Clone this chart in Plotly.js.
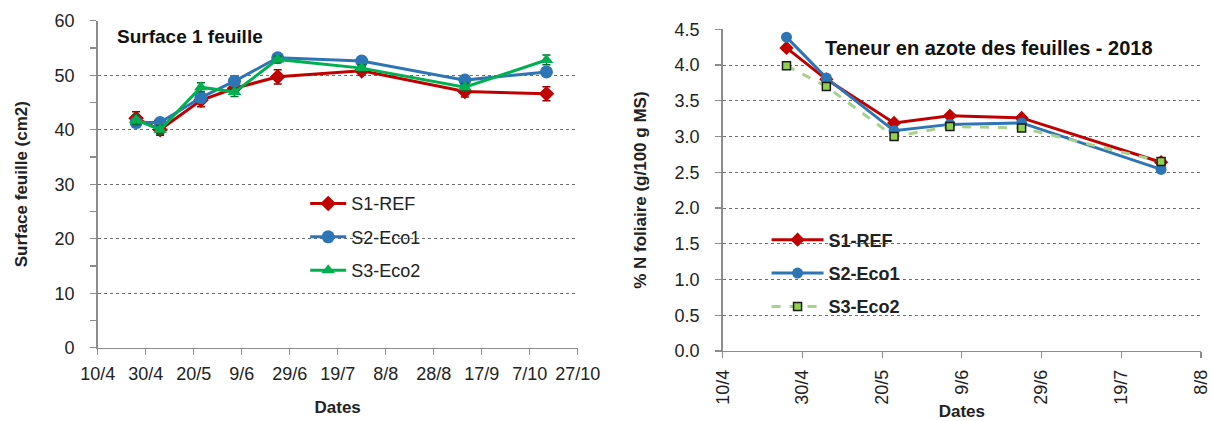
<!DOCTYPE html>
<html>
<head>
<meta charset="utf-8">
<script src="https://cdn.plot.ly/plotly-3.0.1.min.js"></script>
<style>html,body{margin:0;padding:0;background:#fff;}#chart{width:1211px;height:421px;}</style>
</head>
<body>
<div id="chart"></div>
<script>
// ---- Data ----
const seriesNames = ["S1-REF", "S2-Eco1", "S3-Eco2"];

// Left chart: Surface 1 feuille (cm2)
const surfDates = ["2018-04-26", "2018-05-06", "2018-05-23", "2018-06-06", "2018-06-24", "2018-07-29", "2018-09-10", "2018-10-14"];
const surfS1 = [42.1, 40.0, 45.4, 47.6, 49.7, 50.8, 47.0, 46.6];
const surfS2 = [41.3, 41.3, 45.9, 48.9, 53.2, 52.6, 49.1, 50.6];
const surfS3 = [41.8, 40.0, 47.8, 46.9, 52.9, 51.3, 47.8, 52.8];
const surfErrS1 = [1.2, 1.0, 1.2, 0.8, 1.3, 0.8, 1.0, 1.3];
const surfErrS2 = [0.6, 0.6, 0.8, 0.7, 0.6, 0.6, 0.7, 0.7];
const surfErrS3 = [0.9, 0.8, 0.8, 0.8, 0.6, 0.6, 0.7, 0.9];

// Right chart: % N foliaire (g/100 g MS)
const nDates = ["2018-04-26", "2018-05-06", "2018-05-23", "2018-06-06", "2018-06-24", "2018-07-29"];
const nS1 = [4.24, 3.80, 3.19, 3.29, 3.26, 2.64];
const nS2 = [4.39, 3.82, 3.08, 3.17, 3.19, 2.54];
const nS3 = [3.99, 3.70, 3.00, 3.14, 3.12, 2.65];

// Tick labels
const leftTickVals = ["2018-04-10", "2018-04-30", "2018-05-20", "2018-06-09", "2018-06-29", "2018-07-19", "2018-08-08", "2018-08-28", "2018-09-17", "2018-10-07", "2018-10-27"];
const leftTickText = ["10/4", "30/4", "20/5", "9/6", "29/6", "19/7", "8/8", "28/8", "17/9", "7/10", "27/10"];
const rightTickVals = ["2018-04-10", "2018-04-30", "2018-05-20", "2018-06-09", "2018-06-29", "2018-07-19", "2018-08-08"];
const rightTickText = ["10/4", "30/4", "20/5", "9/6", "29/6", "19/7", "8/8"];
const leftYTicks = [0, 10, 20, 30, 40, 50, 60];
const rightYTicks = [0, 0.5, 1, 1.5, 2, 2.5, 3, 3.5, 4, 4.5];
const rightYText = ["0.0", "0.5", "1.0", "1.5", "2.0", "2.5", "3.0", "3.5", "4.0", "4.5"];

// ---- Styles ----
const RED = "#C00000", BLUE = "#2E75B6", GREEN = "#00B050", LGREEN = "#A9D18E", SQ = "#92D050";
const FONT = "Liberation Sans, Arial, sans-serif";

function err(arr, color) {
  return {type: "data", array: arr, visible: true, color: color, thickness: 1.5, width: 4};
}

const traces = [
  {x: surfDates, y: surfS1, name: seriesNames[0], xaxis: "x", yaxis: "y", mode: "lines+markers",
   line: {color: RED, width: 3}, marker: {symbol: "diamond", size: 12, color: RED},
   error_y: err(surfErrS1, "#8B0000"), legend: "legend", legendgroup: "a1"},
  {x: surfDates, y: surfS2, name: seriesNames[1], xaxis: "x", yaxis: "y", mode: "lines+markers",
   line: {color: BLUE, width: 3}, marker: {symbol: "circle", size: 13, color: BLUE},
   error_y: err(surfErrS2, "#1F4E79"), legend: "legend", legendgroup: "a2"},
  {x: surfDates, y: surfS3, name: seriesNames[2], xaxis: "x", yaxis: "y", mode: "lines+markers",
   line: {color: GREEN, width: 3}, marker: {symbol: "triangle-up", size: 12, color: GREEN},
   error_y: err(surfErrS3, "#006B30"), legend: "legend", legendgroup: "a3"},

  {x: nDates, y: nS1, name: seriesNames[0], xaxis: "x2", yaxis: "y2", mode: "lines+markers",
   line: {color: RED, width: 3}, marker: {symbol: "diamond", size: 11, color: RED},
   legend: "legend2", legendgroup: "b1"},
  {x: nDates, y: nS2, name: seriesNames[1], xaxis: "x2", yaxis: "y2", mode: "lines+markers",
   line: {color: BLUE, width: 3}, marker: {symbol: "circle", size: 11, color: BLUE},
   legend: "legend2", legendgroup: "b2"},
  {x: nDates, y: nS3, name: seriesNames[2], xaxis: "x2", yaxis: "y2", mode: "lines+markers",
   line: {color: LGREEN, width: 3, dash: "dash"}, marker: {symbol: "square", size: 8, color: SQ, line: {color: "#1a1a1a", width: 1.5}},
   legend: "legend2", legendgroup: "b3"}
];

const axisCommon = {
  showline: true, linecolor: "#8c8c8c", linewidth: 1.5,
  ticks: "outside", tickcolor: "#8c8c8c", ticklen: 6, tickwidth: 1.2,
  zeroline: false, tickfont: {family: FONT, size: 18, color: "#222"}
};
const titleFont = {family: FONT, size: 17, color: "#222"};

const layout = {
  width: 1211, height: 421,
  margin: {l: 0, r: 0, t: 0, b: 0},
  paper_bgcolor: "#fff", plot_bgcolor: "#fff",
  showlegend: true,
  font: {family: FONT, color: "#222"},
  xaxis: Object.assign({}, axisCommon, {
    domain: [0.0807, 0.4770], anchor: "y", type: "date",
    range: ["2018-04-10", "2018-10-27"],
    tickmode: "array", tickvals: leftTickVals, ticktext: leftTickText,
    showgrid: false, ticklabelstandoff: 3,
    title: {text: "<b>Dates</b>", font: titleFont, standoff: 18}
  }),
  yaxis: Object.assign({}, axisCommon, {
    domain: [0.1741, 0.9508], anchor: "x",
    range: [0, 60], tickmode: "array", tickvals: leftYTicks,
    showgrid: true, gridcolor: "#6e6e6e", griddash: "dot", gridwidth: 1,
    minor: {dtick: 5, ticks: "outside", ticklen: 6, tickcolor: "#8c8c8c", showgrid: false},
    ticklabelstandoff: 12,
    title: {text: "<b>Surface feuille (cm2)</b>", font: titleFont, standoff: 22}
  }),
  xaxis2: Object.assign({}, axisCommon, {
    domain: [0.5968, 0.9917], anchor: "y2", type: "date",
    range: ["2018-04-10", "2018-08-08"],
    tickmode: "array", tickvals: rightTickVals, ticktext: rightTickText, tickangle: -90,
    showgrid: false, ticklabelstandoff: 4,
    title: {text: "<b>Dates</b>", font: titleFont, standoff: 6}
  }),
  yaxis2: Object.assign({}, axisCommon, {
    domain: [0.1663, 0.9304], anchor: "x2",
    range: [0, 4.5], tickmode: "array", tickvals: rightYTicks, ticktext: rightYText,
    showgrid: true, gridcolor: "#6e6e6e", griddash: "dot", gridwidth: 1,
    ticklabelstandoff: 12,
    title: {text: "<b>% N foliaire (g/100 g MS)</b>", font: titleFont, standoff: 23}
  }),
  legend: {
    x: 0.252, y: 0.56, xanchor: "left", yanchor: "top",
    bgcolor: "rgba(255,255,255,0)", traceorder: "grouped", tracegroupgap: 7,
    itemwidth: 36,
    font: {family: FONT, size: 18, color: "#222"}
  },
  legend2: {
    x: 0.633, y: 0.474, xanchor: "left", yanchor: "top",
    bgcolor: "rgba(255,255,255,0)", traceorder: "grouped", tracegroupgap: 7,
    itemwidth: 52,
    font: {family: FONT, size: 18, color: "#222", weight: "bold"}
  },
  annotations: [
    {text: "<b>Surface 1 feuille</b>", xref: "paper", yref: "paper", x: 115 / 1211, y: 1 - 37 / 421,
     xanchor: "left", yanchor: "middle", showarrow: false, font: {family: FONT, size: 19, color: "#111"}},
    {text: "<b>Teneur en azote des feuilles - 2018</b>", xref: "paper", yref: "paper", x: 823 / 1211, y: 1 - 48 / 421,
     xanchor: "left", yanchor: "middle", showarrow: false, font: {family: FONT, size: 20, color: "#111"}}
  ]
};

Plotly.newPlot("chart", traces, layout, {displayModeBar: false, staticPlot: true});
</script>
</body>
</html>
